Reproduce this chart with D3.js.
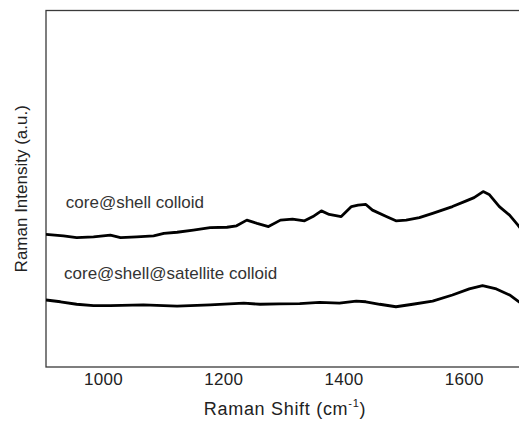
<!DOCTYPE html>
<html>
<head>
<meta charset="utf-8">
<script src="https://cdn.jsdelivr.net/npm/d3@7"></script>
<style>
  html, body { margin: 0; padding: 0; background: #fff; }
  svg { display: block; }
</style>
</head>
<body>
<svg id="chart" width="519" height="421"></svg>
<script>
// Raman shift (cm^-1) and intensity (a.u.) for each colloid
const shellShift = [905, 934, 956, 984, 1012, 1029, 1056, 1084, 1101, 1123, 1150, 1178, 1206, 1222, 1239, 1256, 1275, 1295, 1315, 1335, 1349, 1363, 1376, 1396, 1413, 1424, 1437, 1448, 1471, 1487, 1504, 1526, 1548, 1581, 1604, 1617, 1632, 1642, 1659, 1676, 1690, 1700];
const shellIntensity = [37.2, 36.8, 36.3, 36.5, 37.0, 36.3, 36.5, 36.8, 37.5, 37.8, 38.4, 39.1, 39.2, 39.6, 41.2, 40.3, 39.4, 41.2, 41.5, 41.0, 42.2, 43.8, 42.8, 42.2, 45.0, 45.4, 45.6, 44.0, 42.2, 41.0, 41.2, 41.9, 43.1, 45.0, 46.6, 47.5, 49.2, 48.4, 45.0, 42.6, 39.8, 37.5];

const satelliteShift = [905, 929, 956, 984, 1012, 1067, 1123, 1178, 1234, 1261, 1293, 1327, 1360, 1393, 1421, 1437, 1460, 1487, 1515, 1548, 1581, 1609, 1631, 1654, 1676, 1690, 1700];
const satelliteIntensity = [18.8, 18.3, 17.6, 17.2, 17.2, 17.4, 17.1, 17.4, 17.9, 17.6, 17.7, 17.8, 18.1, 17.9, 18.5, 18.3, 17.6, 16.9, 17.6, 18.5, 20.2, 21.9, 22.8, 21.9, 20.2, 18.5, 17.3];

const xTicks = [1000, 1200, 1400, 1600];
const seriesLabels = ["core@shell colloid", "core@shell@satellite colloid"];

const svg = d3.select("#chart");
const plotLeft = 46, plotRight = 524, plotTop = 10.5, plotBottom = 367;

const x = d3.scaleLinear().domain([905, 1700]).range([plotLeft, plotRight]);
const y = d3.scaleLinear().domain([0, 100]).range([plotBottom, plotTop]);

const font = "Arial, 'Liberation Sans', sans-serif";

// plot frame
svg.append("rect")
  .attr("x", plotLeft).attr("y", plotTop)
  .attr("width", plotRight - plotLeft).attr("height", plotBottom - plotTop)
  .attr("fill", "none").attr("stroke", "#3a3a3a").attr("stroke-width", 1.3);

// x axis labels (no tick marks)
const xAxis = svg.append("g")
  .attr("transform", `translate(0,${plotBottom})`)
  .call(d3.axisBottom(x).tickValues(xTicks).tickSize(0).tickPadding(6).tickFormat(d3.format("d")));
xAxis.select(".domain").remove();
xAxis.selectAll("text")
  .attr("font-family", font).attr("font-size", 17).attr("fill", "#222")
  .attr("letter-spacing", 0.3);

// spectra
const line = d3.line().x(d => x(d[0])).y(d => y(d[1]));
svg.append("clipPath").attr("id", "plotClip")
  .append("rect").attr("x", plotLeft).attr("y", plotTop)
  .attr("width", plotRight - plotLeft).attr("height", plotBottom - plotTop);

const series = [
  { label: seriesLabels[0], pts: d3.zip(shellShift, shellIntensity), lx: 938, ly: 44.6 },
  { label: seriesLabels[1], pts: d3.zip(satelliteShift, satelliteIntensity), lx: 935, ly: 24.6 }
];

svg.append("g").attr("clip-path", "url(#plotClip)")
  .selectAll("path").data(series).join("path")
  .attr("d", d => line(d.pts))
  .attr("fill", "none").attr("stroke", "#000")
  .attr("stroke-width", 2.8).attr("stroke-linejoin", "round");

svg.append("g").selectAll("text").data(series).join("text")
  .attr("x", d => x(d.lx)).attr("y", d => y(d.ly))
  .attr("font-family", font).attr("font-size", 17).attr("fill", "#333")
  .text(d => d.label);

// axis titles
const xTitle = svg.append("text")
  .attr("x", (plotLeft + plotRight) / 2).attr("y", 415)
  .attr("text-anchor", "middle")
  .attr("font-family", font).attr("font-size", 18).attr("fill", "#222")
  .attr("letter-spacing", 0.7);
xTitle.append("tspan").text("Raman Shift (cm");
xTitle.append("tspan").attr("font-size", 11).attr("dy", -8).text("-1");
xTitle.append("tspan").attr("dy", 8).text(")");

svg.append("text")
  .attr("transform", `translate(27,${(plotTop + plotBottom) / 2}) rotate(-90)`)
  .attr("text-anchor", "middle")
  .attr("font-family", font).attr("font-size", 17).attr("fill", "#222")
  .text("Raman Intensity (a.u.)");
</script>
</body>
</html>
